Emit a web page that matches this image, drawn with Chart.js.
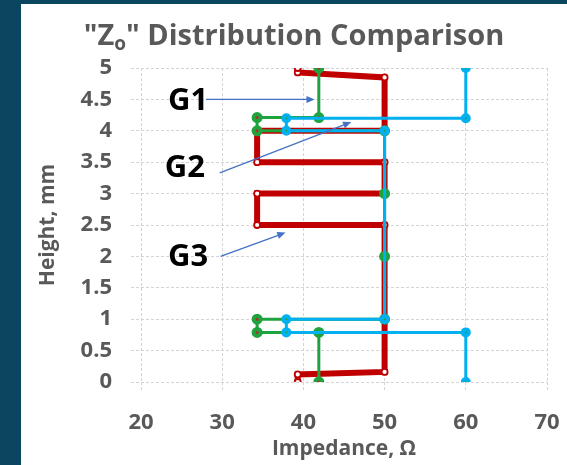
<!DOCTYPE html>
<html>
<head>
<meta charset="utf-8">
<title>Zo Distribution Comparison</title>
<script src="https://cdn.jsdelivr.net/npm/chart.js@4.4.1/dist/chart.umd.min.js"></script>
<style>
    html, body { margin: 0; padding: 0; }
    body { width: 567px; height: 465px; background: #0a4660; position: relative; overflow: hidden; }
    .panel { position: absolute; left: 21px; top: 4px; width: 546px; height: 461px; background: #fff; }
</style>
</head>
<body>
<div class="panel"><canvas id="chart" width="546" height="461"></canvas></div>
<script>
const xTicks = [20, 30, 40, 50, 60, 70];
const yTicks = [0, 0.5, 1, 1.5, 2, 2.5, 3, 3.5, 4, 4.5, 5];

// G1 (green)
const g1Impedance = [41.9, 41.9, 34.3, 34.3, 50, 50, 50, 50, 34.3, 34.3, 41.9, 41.9];
const g1Height = [0, 0.79, 0.79, 1, 1, 2, 3, 4, 4, 4.21, 4.21, 5];

// G2 (cyan)
const g2Impedance = [60, 60, 37.9, 37.9, 50, 50, 37.9, 37.9, 60, 60];
const g2Height = [0, 0.79, 0.79, 1, 1, 4, 4, 4.2, 4.2, 5];

// G3 (red)
const g3Impedance = [39.3, 39.3, 50, 50, 34.3, 34.3, 50, 50, 34.3, 34.3, 50, 50, 39.3, 39.3];
const g3Height = [0, 0.12, 0.16, 2.5, 2.5, 3, 3, 3.5, 3.5, 4, 4, 4.85, 4.93, 5];

// callout labels and arrows, in axis units
const calloutNames = ['G1', 'G2', 'G3'];
const calloutX = [25.8, 25.4, 25.8];
const calloutY = [4.47, 3.41, 1.99];
const arrowFromX = [28.0, 29.7, 29.8];
const arrowFromY = [4.5, 3.33, 2.0];
const arrowToX = [41.4, 45.9, 37.8];
const arrowToY = [4.5, 4.14, 2.38];

const FONT = '"Open Sans", "DejaVu Sans", sans-serif';
const GREY = '#595959';
const GRID = '#d4d4d4';

function toPoints(xs, ys) {
    return xs.map((x, i) => ({ x, y: ys[i] }));
}

function drawArrow(ctx, x0, y0, x1, y1) {
    const angle = Math.atan2(y1 - y0, x1 - x0);
    const head = 9;
    ctx.beginPath();
    ctx.moveTo(x0, y0);
    ctx.lineTo(x1 - Math.cos(angle) * head * 0.8, y1 - Math.sin(angle) * head * 0.8);
    ctx.stroke();
    ctx.beginPath();
    ctx.moveTo(x1, y1);
    ctx.lineTo(x1 - head * Math.cos(angle - 0.4), y1 - head * Math.sin(angle - 0.4));
    ctx.lineTo(x1 - head * Math.cos(angle + 0.4), y1 - head * Math.sin(angle + 0.4));
    ctx.closePath();
    ctx.fill();
}

const overlay = {
    id: 'overlay',
    afterDatasetsDraw(chart) {
        const { ctx, scales: { x, y } } = chart;
        ctx.save();

        ctx.strokeStyle = '#4472c4';
        ctx.fillStyle = '#4472c4';
        ctx.lineWidth = 1.3;
        calloutNames.forEach((_, i) => {
            drawArrow(ctx,
                x.getPixelForValue(arrowFromX[i]), y.getPixelForValue(arrowFromY[i]),
                x.getPixelForValue(arrowToX[i]), y.getPixelForValue(arrowToY[i]));
        });

        ctx.fillStyle = '#000';
        ctx.font = `bold 31px ${FONT}`;
        ctx.textAlign = 'center';
        ctx.textBaseline = 'middle';
        calloutNames.forEach((name, i) => {
            ctx.fillText(name, x.getPixelForValue(calloutX[i]), y.getPixelForValue(calloutY[i]));
        });

        // title with subscript o
        const big = `bold 29px ${FONT}`;
        const small = `bold 19px ${FONT}`;
        const partA = '"Z';
        const sub = 'o';
        const partB = '" Distribution Comparison';
        ctx.font = big;
        const wA = ctx.measureText(partA).width;
        const wB = ctx.measureText(partB).width;
        ctx.font = small;
        const wS = ctx.measureText(sub).width;
        let left = chart.width / 2 - (wA + wS + wB) / 2;
        const base = 41;
        ctx.fillStyle = GREY;
        ctx.textAlign = 'left';
        ctx.textBaseline = 'alphabetic';
        ctx.font = big;
        ctx.fillText(partA, left, base);
        left += wA;
        ctx.font = small;
        ctx.fillText(sub, left, base + 5);
        left += wS;
        ctx.font = big;
        ctx.fillText(partB, left, base);

        ctx.restore();
    },
};

const axisGrid = {
    color: GRID,
    lineWidth: 1,
    tickLength: 10,
    tickColor: GRID,
    tickBorderDash: [3, 2],
};

const axisBorder = { display: false, dash: [3, 2] };

new Chart(document.getElementById('chart'), {
    type: 'scatter',
    data: {
        datasets: [
            {
                label: 'G3',
                data: toPoints(g3Impedance, g3Height),
                showLine: true,
                borderColor: '#c00000',
                borderWidth: 6,
                pointRadius: 3,
                pointBorderWidth: 1.8,
                pointBackgroundColor: '#ffffff',
                pointBorderColor: '#c00000',
                order: 3,
            },
            {
                label: 'G1',
                data: toPoints(g1Impedance, g1Height),
                showLine: true,
                borderColor: '#1fa33f',
                borderWidth: 3,
                pointRadius: 3.5,
                pointBorderWidth: 4,
                pointBackgroundColor: '#b03030',
                pointBorderColor: '#1fa33f',
                order: 2,
            },
            {
                label: 'G2',
                data: toPoints(g2Impedance, g2Height),
                showLine: true,
                borderColor: '#00b0f0',
                borderWidth: 3,
                pointRadius: 3,
                pointBorderWidth: 4,
                pointBackgroundColor: '#1fa33f',
                pointBorderColor: '#00b0f0',
                order: 1,
            },
        ],
    },
    options: {
        responsive: false,
        animation: false,
        events: [],
        layout: {
            padding: { top: 64, right: 20, left: 0, bottom: 0 },
        },
        plugins: {
            legend: { display: false },
            tooltip: { enabled: false },
        },
        scales: {
            x: {
                type: 'linear',
                min: 20,
                max: 70,
                afterBuildTicks(scale) {
                    scale.ticks = xTicks.map((value) => ({ value }));
                },
                afterFit(scale) {
                    scale.height = 83;
                    scale.paddingLeft = 0;
                    scale.paddingRight = 0;
                },
                grid: axisGrid,
                border: axisBorder,
                ticks: {
                    color: GREY,
                    padding: 18,
                    callback: (value) => `${value}`,
                    font: { family: FONT, size: 22, weight: 'bold' },
                },
                title: {
                    display: true,
                    text: 'Impedance, Ω',
                    color: GREY,
                    padding: { top: 0, bottom: 3 },
                    font: { family: FONT, size: 21, weight: 'bold' },
                },
            },
            y: {
                type: 'linear',
                min: 0,
                max: 5,
                afterBuildTicks(scale) {
                    scale.ticks = yTicks.map((value) => ({ value }));
                },
                afterFit(scale) {
                    scale.width = 120;
                    scale.paddingTop = 0;
                    scale.paddingBottom = 0;
                },
                grid: axisGrid,
                border: axisBorder,
                ticks: {
                    color: GREY,
                    padding: 19,
                    callback: (value) => `${value}`,
                    font: { family: FONT, size: 22, weight: 'bold' },
                },
                title: {
                    display: true,
                    text: 'Height, mm',
                    color: GREY,
                    padding: { top: 14, bottom: 0 },
                    font: { family: FONT, size: 21, weight: 'bold' },
                },
            },
        },
    },
    plugins: [overlay],
});
</script>
</body>
</html>
